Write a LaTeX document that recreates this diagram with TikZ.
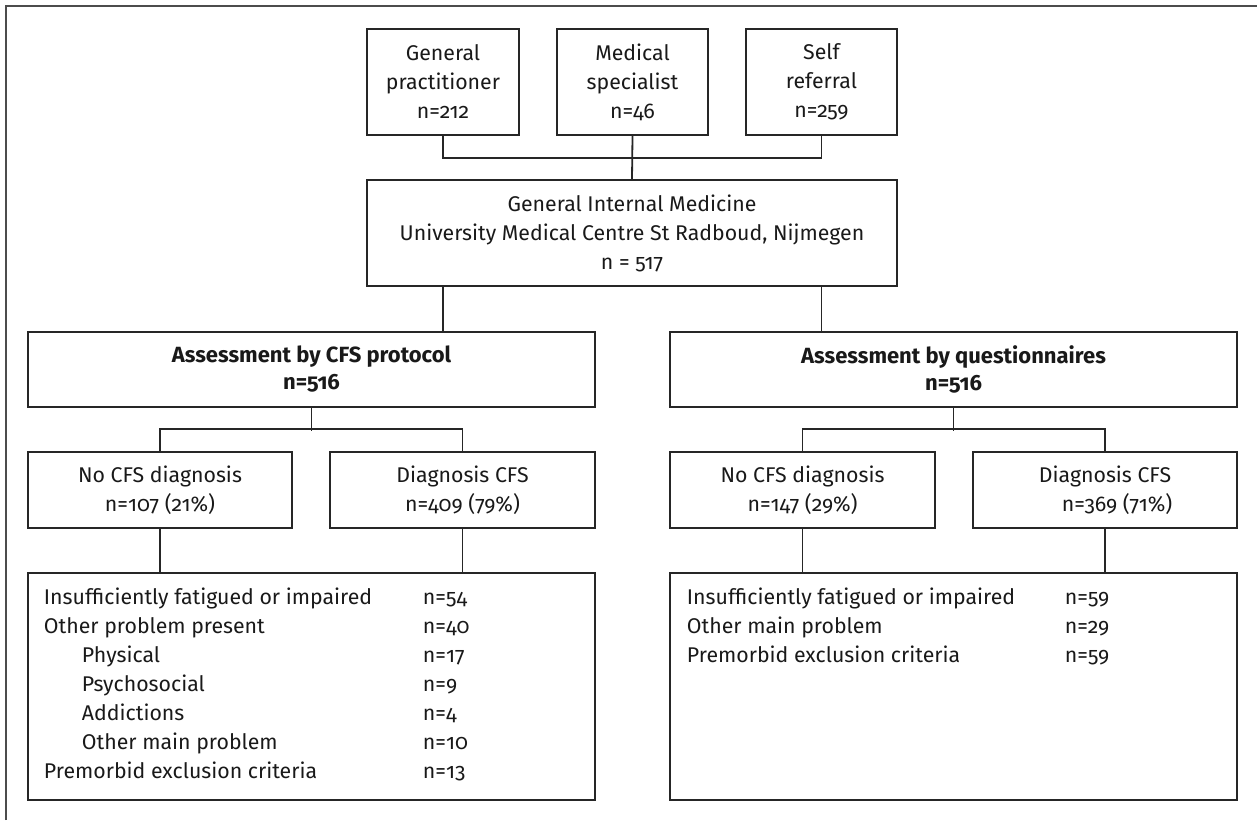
\documentclass[tikz,border=0pt]{standalone}
\usepackage{fontspec}
\setmainfont{Fira Sans}[Numbers=OldStyle]
\begin{document}
\begin{tikzpicture}[x=1pt,y=-1pt,
  line width=1.9pt, draw=black!85,
  box/.style={draw=black!85, line width=1.9pt, rectangle, inner sep=0pt, align=center, text=black!90,
    font=\fontsize{21.3}{29}\selectfont},
  lbl/.style={anchor=base west, inner sep=0pt, text=black!90, font=\fontsize{21.3}{24}\selectfont},
  conn/.style={draw=black!85, line width=1.8pt}]
\useasboundingbox (0,0) rectangle (1257,820);
\draw[black!70, line width=1.7pt] (6,820) -- (6,6) -- (1257,6);
% top boxes
\node[box, minimum width=152pt, minimum height=106pt] (gp) at (443,82) {General\\practitioner\\n=212};
\node[box, minimum width=151pt, minimum height=106pt] (ms) at (632.5,82) {Medical\\specialist\\n=46};
\node[box, minimum width=151pt, minimum height=106pt] (sr) at (821.5,82) {Self\\referral\\n=259};
\node[box, minimum width=530pt, minimum height=106pt] (gim) at (632,233) {General Internal Medicine\\University Medical Centre St Radboud, Nijmegen\\n = 517};
% assessments
\node[box, minimum width=567pt, minimum height=75pt, font=\bfseries\fontsize{22}{27}\selectfont] (acfs) at (311.5,369.5) {Assessment by CFS protocol\\n=516};
\node[box, minimum width=567pt, minimum height=75pt, font=\bfseries\fontsize{22}{27}\selectfont] (aq) at (953.5,369.5) {Assessment by questionnaires\\n=516};
% diagnosis boxes
\node[box, minimum width=264pt, minimum height=76pt] (n1) at (160,490) {No CFS diagnosis\\n=107 (21\%)};
\node[box, minimum width=265pt, minimum height=76pt] (d1) at (462.5,490) {Diagnosis CFS\\n=409 (79\%)};
\node[box, minimum width=265pt, minimum height=76pt] (n2) at (802.5,490) {No CFS diagnosis\\n=147 (29\%)};
\node[box, minimum width=264pt, minimum height=76pt] (d2) at (1105,490) {Diagnosis CFS\\\hspace*{24pt}n=369 (71\%)};
% bottom boxes
\node[box, minimum width=567pt, minimum height=227pt] (b1) at (311.5,686.5) {};
\node[box, minimum width=567pt, minimum height=227pt] (b2) at (953.5,686.5) {};
% left list
\node[lbl] (l1) at (43,604) {Insufficiently fatigued or impaired};
\node[lbl] (l2) at (43,633) {Other problem present};
\node[lbl] (l3) at (81,662) {Physical};
\node[lbl] (l4) at (81,691) {Psychosocial};
\node[lbl] (l5) at (81,720) {Addictions};
\node[lbl] (l6) at (81,749) {Other main problem};
\node[lbl] (l7) at (43,778) {Premorbid exclusion criteria};
\node[lbl] (v1) at (422,604) {n=54};
\node[lbl] (v2) at (422,633) {n=40};
\node[lbl] (v3) at (422,662) {n=17};
\node[lbl] (v4) at (422,691) {n=9};
\node[lbl] (v5) at (422,720) {n=4};
\node[lbl] (v6) at (422,749) {n=10};
\node[lbl] (v7) at (422,778) {n=13};
% right list
\node[lbl] (r1) at (686,604) {Insufficiently fatigued or impaired};
\node[lbl] (r2) at (686,633) {Other main problem};
\node[lbl] (r3) at (686,662) {Premorbid exclusion criteria};
\node[lbl] (w1) at (1064,604) {n=59};
\node[lbl] (w2) at (1064,633) {n=29};
\node[lbl] (w3) at (1064,662) {n=59};
% connectors
\draw[conn] (gp.south) -- ++(0,22) -| (sr.south);
\draw[conn] (ms.south) -- (gim.north);
\draw[conn] (gp.south |- gim.south) -- (gp.south |- acfs.north);
\draw[conn] (sr.south |- gim.south) -- (sr.south |- aq.north);
\draw[conn] (acfs.south) -- ++(0,23);
\draw[conn] (n1.north) -- ++(0,-22) -| (d1.north);
\draw[conn] (aq.south) -- ++(0,23);
\draw[conn] (n2.north) -- ++(0,-22) -| (d2.north);
\draw[conn] (n1.south) -- (n1.south |- b1.north);
\draw[conn] (d1.south) -- (d1.south |- b1.north);
\draw[conn] (n2.south) -- (n2.south |- b2.north);
\draw[conn] (d2.south) -- (d2.south |- b2.north);
\end{tikzpicture}
\end{document}
